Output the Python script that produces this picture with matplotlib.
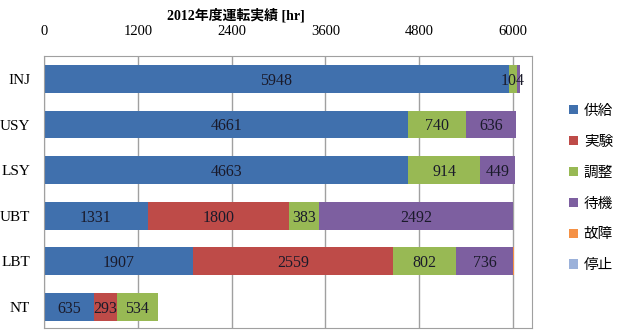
import matplotlib
matplotlib.use("Agg")
import matplotlib.pyplot as plt
import numpy as np

plt.rcParams['font.family'] = ['Liberation Serif', 'Noto Sans CJK JP']

# data (hours, 2012)
machines = ["INJ", "USY", "LSY", "UBT", "LBT", "NT"]
categories = ["供給", "実験", "調整", "待機", "故障", "停止"]
supply = [5948, 4661, 4663, 1331, 1907, 635]
experiment = [0, 0, 0, 1800, 2559, 293]
tuning = [104, 740, 914, 383, 802, 534]
standby = [40, 636, 449, 2492, 736, 0]
failure = [0, 0, 0, 0, 10, 0]
stopped = [0, 0, 0, 0, 0, 0]
xticks = [0, 1200, 2400, 3600, 4800, 6000]

colors = ["#4070AD", "#BE4B48", "#98B954", "#7D5FA0", "#F59145", "#9BB1DA"]

series = [supply, experiment, tuning, standby, failure, stopped]

fig = plt.figure(figsize=(6.31, 3.34), dpi=100)
ax = fig.add_axes([0.0697, 0.018, 0.773, 0.814])

y = np.arange(len(machines))
left = np.zeros(len(machines))
for name, vals, c in zip(categories, series, colors):
    vals = np.array(vals, dtype=float)
    ax.barh(y, vals, left=left, height=0.61, color=c, label=name, zorder=2)
    for yi, (l, v) in enumerate(zip(left, vals)):
        if v >= 100:
            ax.text(l + v / 2, yi + 0.04, f"{int(v)}", ha="center", va="center",
                    fontsize=11.5, color="#1a1a2a", zorder=3)
    left += vals

ax.set_xlim(0, 6240)
ax.set_ylim(5.46, -0.5)
ax.set_yticks(y)
ax.set_yticklabels(machines, fontsize=11)
ax.set_xticks(xticks)
ax.set_xticklabels([str(t) for t in xticks], fontsize=10.5)
ax.xaxis.tick_top()
ax.tick_params(axis="both", length=0)
ax.tick_params(axis="x", pad=13)
ax.tick_params(axis="y", pad=10)
ax.grid(True, axis="x", color="#a0a0a0", linewidth=1, zorder=0)
for s in ax.spines.values():
    s.set_color("#a0a0a0")

fig.text(0.374, 0.955, "2012年度運転実績 [hr]", ha="center", va="center",
         fontsize=10, fontweight="bold")

leg = ax.legend(loc="upper left", bbox_to_anchor=(1.05, 0.87), frameon=False,
                fontsize=10.5, handlelength=0.6, handleheight=0.6,
                handletextpad=0.4, labelspacing=1.22)

fig.savefig("out.png", dpi=100)
